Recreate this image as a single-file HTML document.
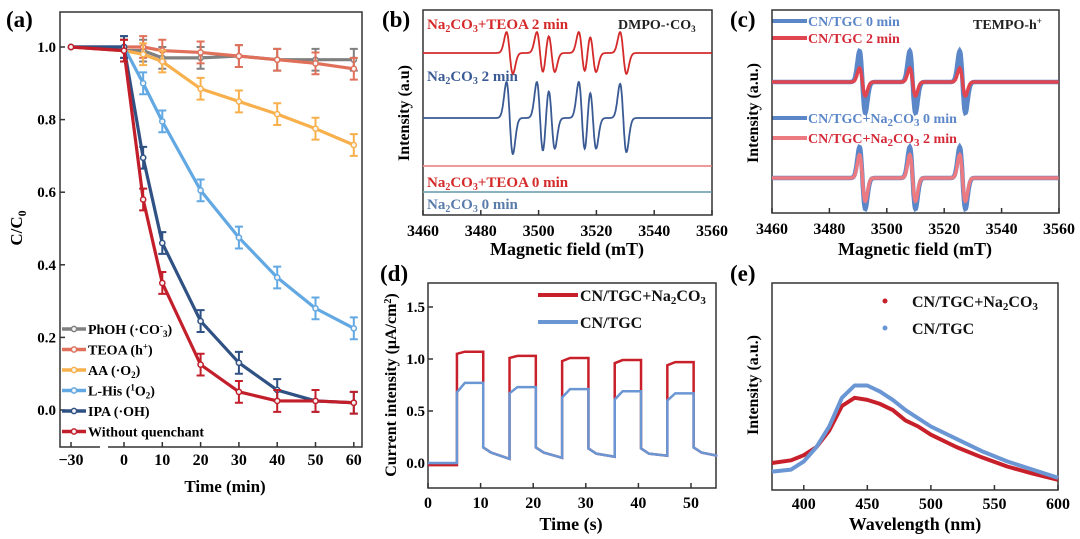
<!DOCTYPE html>
<html><head><meta charset="utf-8"><style>
html,body{margin:0;padding:0;background:#fff;}
svg, svg text{font-family:"Liberation Serif","DejaVu Serif",serif;font-weight:bold;}
svg{display:block;}
</style></head><body>
<svg id="fig" width="1080" height="539" viewBox="0 0 1080 539" xmlns="http://www.w3.org/2000/svg" font-family="Liberation Serif, serif" font-weight="bold">
<text x="6" y="27" font-size="23">(a)</text>
<text x="382" y="27" font-size="23">(b)</text>
<text x="730" y="27" font-size="23">(c)</text>
<text x="380" y="281" font-size="23">(d)</text>
<text x="730" y="281" font-size="23">(e)</text>
<text x="225" y="492" font-size="17" text-anchor="middle">Time (min)</text>
<text transform="translate(22,228) rotate(-90)" font-size="17" text-anchor="middle">C/C<tspan font-size="12" dy="4">0</tspan></text>
<text x="567" y="255" font-size="18" text-anchor="middle">Magnetic field (mT)</text>
<text transform="translate(409,113) rotate(-90)" font-size="16" text-anchor="middle">Intensity (a.u)</text>
<text x="915" y="255" font-size="18" text-anchor="middle">Magnetic field (mT)</text>
<text transform="translate(758,113) rotate(-90)" font-size="16" text-anchor="middle">Intensity (a.u.)</text>
<text x="571" y="530" font-size="18" text-anchor="middle">Time (s)</text>
<text transform="translate(396,385) rotate(-90)" font-size="16" text-anchor="middle">Current intensity (μA/cm<tspan font-size="10" dy="-5">2</tspan><tspan dy="5">)</tspan></text>
<text x="915" y="530" font-size="18" text-anchor="middle">Wavelength (nm)</text>
<text transform="translate(758,385) rotate(-90)" font-size="16" text-anchor="middle">Intensity (a.u.)</text>
<text x="427" y="29" font-size="15" fill="#d42a2a">Na<tspan font-size="10" dy="3">2</tspan><tspan dy="-3">CO</tspan><tspan font-size="10" dy="3">3</tspan><tspan dy="-3">+TEOA 2 min</tspan></text>
<text x="618" y="29" font-size="14" fill="#222">DMPO-·CO<tspan font-size="9" dy="3">3</tspan></text>
<text x="427" y="81" font-size="15" fill="#3a5a94">Na<tspan font-size="10" dy="3">2</tspan><tspan dy="-3">CO</tspan><tspan font-size="10" dy="3">3</tspan><tspan dy="-3"> 2 min</tspan></text>
<text x="427" y="187" font-size="15" fill="#d42a2a">Na<tspan font-size="10" dy="3">2</tspan><tspan dy="-3">CO</tspan><tspan font-size="10" dy="3">3</tspan><tspan dy="-3">+TEOA 0 min</tspan></text>
<text x="427" y="209" font-size="15" fill="#5a7cab">Na<tspan font-size="10" dy="3">2</tspan><tspan dy="-3">CO</tspan><tspan font-size="10" dy="3">3</tspan><tspan dy="-3"> 0 min</tspan></text>
<text x="973" y="29" font-size="14" fill="#222">TEMPO-h<tspan font-size="9" dy="-5">+</tspan></text>
<g font-size="14">
<line x1="772" y1="21" x2="807" y2="21" stroke="#5b86c8" stroke-width="4"/><text x="808" y="26" fill="#5b86c8">CN/TGC 0 min</text>
<line x1="772" y1="38" x2="807" y2="38" stroke="#e04650" stroke-width="4"/><text x="808" y="43" fill="#d42a38">CN/TGC 2 min</text>
<line x1="772" y1="118" x2="807" y2="118" stroke="#5b86c8" stroke-width="4"/><text x="808" y="123" fill="#5b86c8">CN/TGC+Na<tspan font-size="11" dy="3">2</tspan><tspan dy="-3">CO</tspan><tspan font-size="11" dy="3">3</tspan><tspan dy="-3"> 0 min</tspan></text>
<line x1="772" y1="138" x2="807" y2="138" stroke="#ec7a80" stroke-width="4"/><text x="808" y="143" fill="#d42a38">CN/TGC+Na<tspan font-size="11" dy="3">2</tspan><tspan dy="-3">CO</tspan><tspan font-size="11" dy="3">3</tspan><tspan dy="-3"> 2 min</tspan></text>
</g>
<g font-size="16">
<line x1="538" y1="295" x2="578" y2="295" stroke="#c8202a" stroke-width="4"/><text x="580" y="301" fill="#111">CN/TGC+Na<tspan font-size="11" dy="3">2</tspan><tspan dy="-3">CO</tspan><tspan font-size="11" dy="3">3</tspan></text>
<line x1="538" y1="322" x2="578" y2="322" stroke="#6a96d4" stroke-width="4"/><text x="580" y="328" fill="#111">CN/TGC</text>
</g>
<g font-size="16">
<circle cx="885" cy="301" r="2.5" fill="#c8202a"/><text x="912" y="307" fill="#111">CN/TGC+Na<tspan font-size="11" dy="3">2</tspan><tspan dy="-3">CO</tspan><tspan font-size="11" dy="3">3</tspan></text>
<circle cx="885" cy="328" r="2.5" fill="#6a96d4"/><text x="912" y="334" fill="#111">CN/TGC</text>
</g>
<g font-size="14">
<text x="88" y="334">PhOH (·CO<tspan font-size="9" dy="-5">-</tspan><tspan font-size="9" dy="8">3</tspan><tspan dy="-3">)</tspan></text>
<text x="88" y="354.5">TEOA (h<tspan font-size="9" dy="-5">+</tspan><tspan dy="5">)</tspan></text>
<text x="88" y="375">AA (·O<tspan font-size="9" dy="3">2</tspan><tspan dy="-3">)</tspan></text>
<text x="88" y="395.5">L-His (<tspan font-size="9" dy="-5">1</tspan><tspan dy="5">O</tspan><tspan font-size="9" dy="3">2</tspan><tspan dy="-3">)</tspan></text>
<text x="88" y="416">IPA (·OH)</text>
<text x="88" y="436.5">Without quenchant</text>
</g>
</svg>
<script>
const aTimes=[-30,0,5,10,20,30,40,50,60];
const aNames=["PhOH (·CO3-)","TEOA (h+)","AA (·O2-)","L-His (1O2)","IPA (·OH)","Without quenchant"];
const aPhOH=[1.0,0.99,0.99,0.97,0.97,0.975,0.965,0.965,0.965];
const aTEOA=[1.0,1.0,1.0,0.99,0.985,0.975,0.965,0.955,0.94];
const aAA=[1.0,0.99,0.98,0.96,0.885,0.85,0.815,0.775,0.73];
const aLHis=[1.0,1.0,0.9,0.795,0.605,0.475,0.365,0.28,0.225];
const aIPA=[1.0,1.0,0.695,0.46,0.245,0.13,0.055,0.025,0.02];
const aWithout=[1.0,0.99,0.58,0.35,0.125,0.05,0.025,0.025,0.02];
const aYTicks=[0.0,0.2,0.4,0.6,0.8,1.0];
const aXTicks=[-30,0,10,20,30,40,50,60];
const bCenters=[3490,3500.5,3504.5,3515,3518.8,3529.3];
const bAmpBlue=[1.0,1.0,0.85,1.0,0.85,0.95];
const bAmpRed=[0.55,0.55,0.5,0.55,0.5,0.55];
const bXTicks=[3460,3480,3500,3520,3540,3560];
const cCenters=[3491.5,3509,3526.4];
const cAmpTop=[1.0,0.45];
const cAmpBottom=[1.0,0.75];
const dOn=[5.5,15.5,25.5,35.5,45.5];
const dOff=[10.5,20.5,30.5,40.5,50.5];
const dRedPlateau=[1.07,1.03,1.01,0.99,0.97];
const dRedStart=[1.05,1.01,0.98,0.96,0.94];
const dBluePlateau=[0.77,0.73,0.71,0.69,0.67];
const dBlueStart=[0.68,0.67,0.63,0.61,0.60];
const dDarkStart=[0.15,0.15,0.14,0.14,0.15];
const dDarkEnd=[0.04,0.05,0.06,0.07,0.07];
const dYTicks=[0.0,0.5,1.0,1.5];
const dXTicks=[0,10,20,30,40,50];
const eWave=[375,390,400,410,420,430,440,450,460,470,480,490,500,520,540,560,580,600];
const eRed=[0.122,0.135,0.16,0.2,0.28,0.4,0.44,0.43,0.41,0.38,0.33,0.3,0.26,0.2,0.15,0.105,0.07,0.04];
const eBlue=[0.08,0.09,0.13,0.2,0.3,0.44,0.5,0.5,0.47,0.43,0.38,0.34,0.3,0.24,0.18,0.13,0.09,0.05];
const eXTicks=[400,450,500,550,600];

const NS="http://www.w3.org/2000/svg";
const svg=document.getElementById('fig');
function el(tag,attrs){const e=document.createElementNS(NS,tag);for(const k in attrs)e.setAttribute(k,attrs[k]);svg.appendChild(e);return e;}
function txt(x,y,s,size,anchor){const t=el('text',{x:x,y:y,'font-size':size,'text-anchor':anchor||'middle'});t.textContent=s;return t;}

const aL=60,aR=362,aT=12,aB=447;
function xa(t){return t<=-30?71:124+t*3.83;}
function ya(v){return 410-v*363;}
let fr=el('rect',{x:aL,y:aT,width:aR-aL,height:aB-aT,fill:'none',stroke:'#333','stroke-width':1.5});


aYTicks.forEach(v=>{let l=el('line',{x1:aL,x2:aL+5,y1:ya(v),y2:ya(v),stroke:'#333','stroke-width':1.5});


let t=txt(aL-4,ya(v)+5,v.toFixed(1),15,'end');

});
aXTicks.forEach(v=>{let l=el('line',{x1:xa(v),x2:xa(v),y1:aB,y2:aB-5,stroke:'#333','stroke-width':1.5});


let t=txt(xa(v),aB+18,v<0?'\u2212'+Math.abs(v):String(v),16);

});
let br=el('rect',{x:100,y:aB-4,width:8,height:8,fill:'#fff'});


const aSeries=[[aPhOH,'#808080'],[aTEOA,'#e0705a'],[aAA,'#f8b04c'],[aLHis,'#62a8e2'],[aIPA,'#2f5183'],[aWithout,'#c21f2b']];
aSeries.forEach(([vals,col],si)=>{
  let d=vals.map((v,i)=>(i?'L':'M')+xa(aTimes[i])+','+ya(v)).join('');
  let p=el('path',{d:d,fill:'none',stroke:col,'stroke-width':3.2,'stroke-linejoin':'round'});
  
  
  vals.forEach((v,i)=>{
    let x=xa(aTimes[i]),y=ya(v);
    if(i>0){let e=0.03*363;
      let eb=el('path',{d:`M${x},${y-e}L${x},${y+e}M${x-4},${y-e}L${x+4},${y-e}M${x-4},${y+e}L${x+4},${y+e}`,stroke:col,'stroke-width':2,fill:'none'});
      
      }
    let c=el('circle',{cx:x,cy:y,r:2.6,fill:'#f4f4f4',stroke:col,'stroke-width':1.5});
    
    
  });
  let ly=329+si*20.5;
  let ll=el('line',{x1:62,x2:86,y1:ly,y2:ly,stroke:col,'stroke-width':3.5});
  
  
  let lc=el('circle',{cx:74,cy:ly,r:2.6,fill:'#f4f4f4',stroke:col,'stroke-width':1.5});
  
  
});

function deriv(x,c,w){const u=(x-c)/w;return -u*Math.exp(-u*u/2)/0.6065;}
function eprPath(L,R,base,centers,amps,scale,w,x0,x1){
  let d='';for(let x=x0;x<=x1;x+=0.15){let s=0;centers.forEach((c,i)=>s+=amps[i]*deriv(x,c,w));
  const px=L+(x-x0)/(x1-x0)*(R-L);d+=(d?'L':'M')+px.toFixed(1)+','+(base-s*scale).toFixed(1);}return d;}
function xFrame(L,R,T,B,ticks,pfx){
  let f=el('rect',{x:L,y:T,width:R-L,height:B-T,fill:'none',stroke:'#333','stroke-width':1.5});
  
  
  ticks.forEach((v,i)=>{const x=L+i/(ticks.length-1)*(R-L);
    let l=el('line',{x1:x,x2:x,y1:B,y2:B-5,stroke:'#333','stroke-width':1.5});
    
    
    let t=txt(x,B+21,String(v),16);
    
    });
}
const bL=423,bR=712,bT=10,bB=215;
xFrame(bL,bR,bT,bB,bXTicks,'b');
let zeros=bCenters.map(()=>0);
[[53,bAmpRed,'#d42a2a',38,'b-trace-teoa-2min'],[118,bAmpBlue,'#3a5a94',36,'b-trace-na2co3-2min'],[166,zeros,'#ef8a8a',0,'b-trace-teoa-0min'],[192,zeros,'#7aa6b4',0,'b-trace-na2co3-0min']].forEach(([base,amps,col,sc,nm])=>{
  let p=el('path',{d:eprPath(bL,bR,base,bCenters,amps,sc,1.1,3460,3560),fill:'none',stroke:col,'stroke-width':1.8});
  
  
});
const cL=772,cR=1059,cT=10,cB=213;
xFrame(cL,cR,cT,cB,bXTicks,'c');
[[82,cAmpTop[0],'#5b86c8',4.5,'c-trace-cntgc-0min'],[82,cAmpTop[1],'#e04650',3.5,'c-trace-cntgc-2min'],[178,cAmpBottom[0],'#5b86c8',4.5,'c-trace-na2co3-0min'],[178,cAmpBottom[1],'#ec7a80',3.5,'c-trace-na2co3-2min']].forEach(([base,a,col,sw,nm])=>{
  let p=el('path',{d:eprPath(cL,cR,base,cCenters,cCenters.map(()=>a),31,1.0,3460,3560),fill:'none',stroke:col,'stroke-width':sw});
  
  
});
const dL=428,dR=716,dT=283,dB=488;
function xd(t){return dL+t*5.26;}
function yd(v){return 463-v*104;}
let fd=el('rect',{x:dL,y:dT,width:dR-dL,height:dB-dT,fill:'none',stroke:'#333','stroke-width':1.5});


dYTicks.forEach(v=>{let l=el('line',{x1:dL,x2:dL+5,y1:yd(v),y2:yd(v),stroke:'#333','stroke-width':1.5});


let t=txt(dL-3,yd(v)+5,v.toFixed(1),15,'end');

});
dXTicks.forEach(v=>{let l=el('line',{x1:xd(v),x2:xd(v),y1:dB,y2:dB-5,stroke:'#333','stroke-width':1.5});


let t=txt(xd(v),dB+20,String(v),16);

});
function dPath(plat,start,base0){
  let d=`M${xd(0)},${yd(base0)}`;
  dOn.forEach((on,i)=>{d+=`L${xd(on)},${yd(i?dDarkEnd[i-1]:base0)}L${xd(on)},${yd(start[i])}L${xd(on+1.5)},${yd(plat[i])}L${xd(dOff[i])},${yd(plat[i])}L${xd(dOff[i])},${yd(dDarkStart[i])}L${xd(dOff[i]+1.5)},${yd(dDarkStart[i]-0.05)}`;
    const end=i<dOn.length-1?dOn[i+1]:55;d+=`L${xd(end)},${yd(dDarkEnd[i])}`;});
  return d;}
let dr=el('path',{d:dPath(dRedPlateau,dRedStart,-0.02),fill:'none',stroke:'#c8202a','stroke-width':2.5});


let db=el('path',{d:dPath(dBluePlateau,dBlueStart,0.0),fill:'none',stroke:'#6a96d4','stroke-width':2.5});


const eL=772,eR=1058,eT=283,eB=490;
function xe(w){return eL+(w-375)/225*(eR-eL);}
function ye(v){return 488-v*205;}
let fe=el('rect',{x:eL,y:eT,width:eR-eL,height:eB-eT,fill:'none',stroke:'#333','stroke-width':1.5});


eXTicks.forEach(v=>{let l=el('line',{x1:xe(v),x2:xe(v),y1:eB,y2:eB-5,stroke:'#333','stroke-width':1.5});


let t=txt(xe(v),eB+19,String(v),16);

});
[[eRed,'#c8202a','e-trace-cntgc-na2co3'],[eBlue,'#6a96d4','e-trace-cntgc']].forEach(([vals,col,nm])=>{
  let d=vals.map((v,i)=>(i?'L':'M')+xe(eWave[i]).toFixed(1)+','+ye(v).toFixed(1)).join('');
  let p=el('path',{d:d,fill:'none',stroke:col,'stroke-width':4,'stroke-linejoin':'round'});
  
  
});
</script>
</body></html>
